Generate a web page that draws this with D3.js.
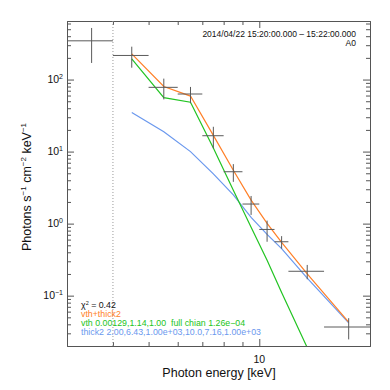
<!DOCTYPE html>
<html>
<head>
<meta charset="utf-8">
<script src="https://cdn.jsdelivr.net/npm/d3@7"></script>
<style>
  body { margin: 0; background: #fff; }
  svg { display: block; font-family: "Liberation Sans", Arial, Helvetica, sans-serif; }
  text { white-space: pre; }
</style>
</head>
<body>
<script>
// energy bins [keV] and measured flux
const eLo = [3, 4, 5, 6, 7, 8, 9, 10, 11, 12, 15];
const eHi = [4, 5, 6, 7, 8, 9, 10, 11, 12, 15, 20];
const flux = [345, 216, 78, 63, 16.6, 5.25, 1.87, 0.83, 0.56, 0.218, 0.0367];
const fluxErr = [175, 70, 25, 16, 5.5, 1.45, 0.55, 0.27, 0.11, 0.049, 0.012];

// model curves at the bin centres of the fit range
const modelE = [4.5, 5.5, 6.5, 7.5, 8.5, 9.5, 10.5, 11.5, 13.5, 17.5];
const vthModel = [193, 56, 48.5, 11.2, 2.9, 0.89, 0.31, 0.111, 0.019, 0.0004];
const thickModel = [35, 18.9, 10.0, 4.9, 2.5, 1.22, 0.71, 0.45, 0.175, 0.042];
const totalModel = [227, 80, 59, 16.8, 5.5, 2.12, 1.01, 0.55, 0.20, 0.043];

// axes ticks
const yMajor = [0.1, 1, 10, 100];
const yExp = ["\u22121", "0", "1", "2"];
const xMajor = [10];
const xMinor = [4, 5, 6, 7, 8, 9];
const fitStart = 4;

const legendLines = [
  {text: "vth+thick2", color: "#ff7f27"},
  {text: "vth 0.00129,1.14,1.00  full chian 1.26e\u221204", color: "#22c422"},
  {text: "thick2 2.00,6.43,1.00e+03,10.0,7.16,1.00e+03", color: "#6a98ee"}
];

(function() {
  const W = 390, H = 390;
  const pLeft = 67, pRight = 370, pTop = 21, pBottom = 346;
  const axisColor = "#555";

  const svg = d3.select("body").append("svg")
    .attr("width", W).attr("height", H);

  const x = d3.scaleLog().domain([3, 20]).range([pLeft, pRight]);
  const y = d3.scaleLog().domain([0.02, 650]).range([pBottom, pTop]);

  // minor y ticks 2..9 in every decade
  let yMinor = [];
  for (let p = -2; p <= 2; p++) {
    for (let m = 2; m <= 9; m++) {
      let v = m * Math.pow(10, p);
      if (v > 0.02 && v < 650) yMinor.push(v);
    }
  }

  function styleAxis(g) {
    g.selectAll("path.domain").attr("stroke", axisColor);
    g.selectAll("line").attr("stroke", axisColor);
  }

  // left axis
  let gl = svg.append("g").attr("transform", `translate(${pLeft},0)`);
  gl.call(d3.axisLeft(y).tickValues(yMinor).tickSizeInner(-4).tickSizeOuter(0).tickFormat(""));
  gl.append("g").call(d3.axisLeft(y).tickValues(yMajor).tickSizeInner(-7).tickSizeOuter(0).tickFormat(""));
  styleAxis(gl);

  // y tick labels with superscripts
  yMajor.forEach((v, i) => {
    let t = svg.append("text")
      .attr("x", 63).attr("y", y(v) + 3.8)
      .attr("text-anchor", "end")
      .attr("fill", "#111")
      .style("font-size", "10.5px");
    t.append("tspan").text("10");
    t.append("tspan").attr("dy", -4).style("font-size", "7px").text(yExp[i]);
  });

  // right axis
  let gr = svg.append("g").attr("transform", `translate(${pRight},0)`);
  gr.call(d3.axisRight(y).tickValues(yMinor).tickSizeInner(-4).tickSizeOuter(0).tickFormat(""));
  gr.append("g").call(d3.axisRight(y).tickValues(yMajor).tickSizeInner(-7).tickSizeOuter(0).tickFormat(""));
  styleAxis(gr);

  // bottom axis
  let gb = svg.append("g").attr("transform", `translate(0,${pBottom})`);
  gb.call(d3.axisBottom(x).tickValues(xMinor).tickSizeInner(-4).tickSizeOuter(0).tickFormat(""));
  gb.append("g").call(d3.axisBottom(x).tickValues(xMajor).tickSizeInner(-7).tickSizeOuter(0).tickFormat(""));
  styleAxis(gb);

  xMajor.forEach(v => {
    svg.append("text")
      .attr("x", x(v)).attr("y", 362.5)
      .attr("text-anchor", "middle")
      .attr("fill", "#111")
      .style("font-size", "10.5px")
      .text(v);
  });

  // top axis
  let gt = svg.append("g").attr("transform", `translate(0,${pTop})`);
  gt.call(d3.axisTop(x).tickValues(xMinor).tickSizeInner(-4).tickSizeOuter(0).tickFormat(""));
  gt.append("g").call(d3.axisTop(x).tickValues(xMajor).tickSizeInner(-7).tickSizeOuter(0).tickFormat(""));
  styleAxis(gt);

  // axis titles
  svg.append("text")
    .attr("x", 219).attr("y", 376.5)
    .attr("text-anchor", "middle")
    .attr("fill", "#111")
    .style("font-size", "12.5px")
    .text("Photon energy [keV]");

  let yt = svg.append("text")
    .attr("transform", "translate(31,187)rotate(-90)")
    .attr("text-anchor", "middle")
    .attr("fill", "#111")
    .style("font-size", "12.5px");
  yt.append("tspan").text("Photons s");
  yt.append("tspan").attr("dy", -5).style("font-size", "8px").text("\u22121");
  yt.append("tspan").attr("dy", 5).text(" cm");
  yt.append("tspan").attr("dy", -5).style("font-size", "8px").text("\u22122");
  yt.append("tspan").attr("dy", 5).text(" keV");
  yt.append("tspan").attr("dy", -5).style("font-size", "8px").text("\u22121");

  // fit start marker
  svg.append("line")
    .attr("x1", x(fitStart)).attr("x2", x(fitStart))
    .attr("y1", pTop).attr("y2", pBottom)
    .attr("stroke", "#999")
    .attr("stroke-dasharray", "1,2");

  // model lines, clipped to plot area
  svg.append("clipPath").attr("id", "plotclip")
    .append("rect")
    .attr("x", pLeft).attr("y", pTop)
    .attr("width", pRight - pLeft).attr("height", pBottom - pTop);

  let line = d3.line()
    .x((d, i) => x(modelE[i]))
    .y(d => y(d));

  let models = [
    {vals: thickModel, color: "#6a98ee"},
    {vals: vthModel, color: "#22c422"},
    {vals: totalModel, color: "#ff7f27"}
  ];
  let gm = svg.append("g").attr("clip-path", "url(#plotclip)");
  models.forEach(m => {
    gm.append("path")
      .datum(m.vals)
      .attr("d", line)
      .attr("fill", "none")
      .attr("stroke", m.color)
      .attr("stroke-width", 1.2);
  });

  // data crosses
  let crosses = svg.append("g").selectAll("g")
    .data(flux)
    .enter()
    .append("g");
  crosses.append("line")
    .attr("x1", (d, i) => x(eLo[i]))
    .attr("x2", (d, i) => x(eHi[i]))
    .attr("y1", d => y(d))
    .attr("y2", d => y(d))
    .attr("stroke", "#5a5a5a");
  crosses.append("line")
    .attr("x1", (d, i) => x((eLo[i] + eHi[i]) / 2))
    .attr("x2", (d, i) => x((eLo[i] + eHi[i]) / 2))
    .attr("y1", (d, i) => y(d + fluxErr[i]))
    .attr("y2", (d, i) => y(d - fluxErr[i]))
    .attr("stroke", "#5a5a5a");

  // time range label
  svg.append("text")
    .attr("x", 356).attr("y", 37.3)
    .attr("text-anchor", "end")
    .attr("fill", "#111")
    .style("font-size", "8.5px")
    .text("2014/04/22 15:20:00.000 \u2013 15:22:00.000");
  svg.append("text")
    .attr("x", 356).attr("y", 46)
    .attr("text-anchor", "end")
    .attr("fill", "#111")
    .style("font-size", "8.5px")
    .text("A0");

  // legend
  let chi = svg.append("text")
    .attr("x", 81).attr("y", 308)
    .attr("fill", "#111")
    .style("font-size", "8.8px");
  chi.append("tspan").text("\u03c7");
  chi.append("tspan").attr("dy", -3).style("font-size", "5.5px").text("2");
  chi.append("tspan").attr("dy", 3).text(" = 0.42");

  svg.selectAll(".legend")
    .data(legendLines)
    .enter()
    .append("text")
    .attr("class", "legend")
    .attr("x", 81)
    .attr("y", (d, i) => 317 + i * 8.8)
    .attr("fill", d => d.color)
    .style("font-size", "8.8px")
    .text(d => d.text);
})();
</script>
</body>
</html>
